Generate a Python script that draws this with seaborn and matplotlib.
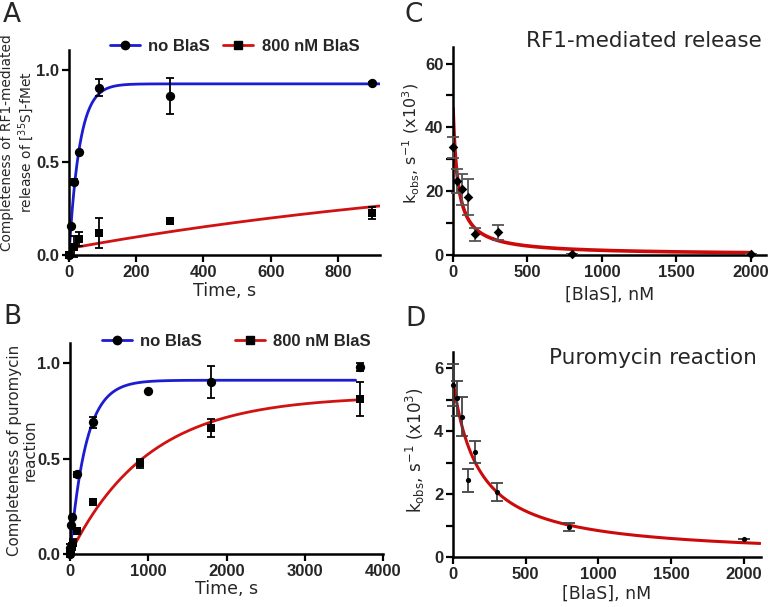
import numpy as np
import pandas as pd
import matplotlib
matplotlib.use("Agg")
import matplotlib.pyplot as plt
from matplotlib.lines import Line2D
from matplotlib.ticker import MultipleLocator
import seaborn as sns

# panel A - RF1-mediated release, completeness vs time
a_t_free = [0, 5, 15, 30, 90, 300, 900]
a_y_free = [0, 0.155, 0.396, 0.558, 0.905, 0.861, 0.928]
a_e_free = [0, 0, 0.015, 0, 0.048, 0.098, 0.006]
a_t_blas = [0, 15, 30, 90, 300, 900]
a_y_blas = [0, 0.045, 0.086, 0.119, 0.185, 0.227]
a_e_blas = [0, 0.055, 0.04, 0.08, 0, 0.03]

# panel B - puromycin reaction, completeness vs time
b_t_free = [0, 5, 10, 25, 90, 300, 1000, 1800, 3700]
b_y_free = [0, 0.03, 0.15, 0.195, 0.417, 0.69, 0.852, 0.902, 0.979]
b_e_free = [0, 0.02, 0, 0, 0.015, 0.03, 0, 0.085, 0.02]
b_t_blas = [0, 10, 20, 40, 90, 300, 900, 1800, 3700]
b_y_blas = [0, 0.02, 0.04, 0.06, 0.12, 0.27, 0.475, 0.66, 0.813]
b_e_blas = [0, 0.01, 0.02, 0.02, 0, 0, 0.025, 0.045, 0.09]

# panels C, D - kobs vs [BlaS]
conc = [0, 30, 60, 100, 150, 300, 800, 2000]
c_kobs = [33.7, 23.2, 20.6, 18.1, 6.5, 7.1, 0.4, 0.3]
c_err = [3.4, 3.8, 4.9, 5.6, 2.0, 2.3, 0, 0]
d_kobs = [5.47, 5.04, 4.46, 2.43, 3.32, 2.07, 0.95, 0.57]
d_err = [0.66, 0.55, 0.62, 0.36, 0.35, 0.29, 0.12, 0]

# fitted parameters
a_fit_free = (0.925, 0.032)          # plateau, rate
a_fit_blas = (0.035, 0.5, 1 / 1500)  # offset, amplitude, rate
b_fit_free = (0.91, 0.0049)
b_fit_blas = (0.828, 0.001)
c_fit = (46.0, 33.0)                 # k0, Ki
d_fit = (5.62, 175.0)

BLUE = "#1c1cd2"
RED = "#d01212"
RED2 = "#cc0a0a"

sns.set_theme(style="ticks")
plt.rcParams["font.family"] = ["DejaVu Sans"]
plt.rcParams["mathtext.default"] = "regular"

fig = plt.figure(figsize=(7.68, 6.07), dpi=100)
W, H = 768, 607


def box(l, t, r, b):
    return [l / W, (H - b) / H, (r - l) / W, (b - t) / H]


axA = fig.add_axes(box(69, 50, 380, 255))
axB = fig.add_axes(box(70, 343, 383, 554))
axC = fig.add_axes(box(453, 47, 766, 255))
axD = fig.add_axes(box(453, 352, 761, 557))

tick_font = dict(family="Liberation Sans", weight="bold", size=12)


def style(ax):
    sns.despine(ax=ax)
    for s in ("left", "bottom"):
        ax.spines[s].set_linewidth(1.8)
        ax.spines[s].set_color("black")
    ax.tick_params(which="both", direction="out", width=1.6, color="black", pad=2)
    ax.tick_params(which="major", length=5)
    ax.tick_params(which="minor", length=5)
    for lab in ax.get_xticklabels() + ax.get_yticklabels():
        lab.set_fontproperties(matplotlib.font_manager.FontProperties(**tick_font))
    ax.grid(False)
    ax.set_facecolor("white")


def dots(ax, x, y, e, marker, size, ecol="black", cap=3):
    df = pd.DataFrame({"x": x, "y": y})
    ax.errorbar(x, y, yerr=e, fmt="none", ecolor=ecol, elinewidth=1.3,
                capsize=cap, capthick=1.3, zorder=3, clip_on=False)
    sns.scatterplot(data=df, x="x", y="y", ax=ax, marker=marker, s=size,
                    color="black", edgecolor="black", linewidth=0, zorder=4,
                    clip_on=False, legend=False)


# ---- A
tA = np.linspace(0, 925, 400)
tA2 = np.linspace(10, 925, 200)
sns.lineplot(x=tA, y=a_fit_free[0] * (1 - np.exp(-a_fit_free[1] * tA)), ax=axA,
             color=BLUE, lw=2, zorder=2)
sns.lineplot(x=tA2, y=a_fit_blas[0] + a_fit_blas[1] * (1 - np.exp(-a_fit_blas[2] * tA2)),
             ax=axA, color=RED, lw=2, zorder=2)
dots(axA, a_t_free, a_y_free, a_e_free, "o", 45)
dots(axA, a_t_blas, a_y_blas, a_e_blas, "s", 40)
axA.set_xlim(0, 925)
axA.set_ylim(0, 1.108)
axA.set_xticks([0, 200, 400, 600, 800])
axA.set_yticks([0, 0.5, 1.0])
axA.set_yticklabels(["0.0", "0.5", "1.0"])
axA.set_xlabel("Time, s", fontsize=12.5, labelpad=2)
axA.set_ylabel("Completeness of RF1-mediated\nrelease of [$^{35}$S]-fMet",
               fontsize=9.9, linespacing=1.1)
axA.yaxis.set_label_coords(-0.107, 0.55)

# ---- B
tB = np.linspace(0, 3650, 500)
sns.lineplot(x=tB, y=b_fit_free[0] * (1 - np.exp(-b_fit_free[1] * tB)), ax=axB,
             color=BLUE, lw=2, zorder=2)
sns.lineplot(x=tB, y=b_fit_blas[0] * (1 - np.exp(-b_fit_blas[1] * tB)), ax=axB,
             color=RED, lw=2, zorder=2)
dots(axB, b_t_free, b_y_free, b_e_free, "o", 45)
dots(axB, b_t_blas, b_y_blas, b_e_blas, "s", 40)
axB.set_xlim(0, 4000)
axB.set_ylim(0, 1.105)
axB.set_xticks([0, 1000, 2000, 3000, 4000])
axB.set_yticks([0, 0.5, 1.0])
axB.set_yticklabels(["0.0", "0.5", "1.0"])
axB.set_xlabel("Time, s", fontsize=12.5, labelpad=1)
axB.set_ylabel("Completeness of puromycin\nreaction", fontsize=10.8,
               linespacing=1.1)
axB.yaxis.set_label_coords(-0.102, 0.49)

# ---- C
xc = np.linspace(0, 2000, 600)
sns.lineplot(x=xc, y=c_fit[0] * c_fit[1] / (c_fit[1] + xc), ax=axC,
             color=RED2, lw=2.6, zorder=2)
dots(axC, conc, c_kobs, c_err, "D", 24, ecol="#555555", cap=4)
axC.set_xlim(0, 2103)
axC.set_ylim(0, 65.2)
axC.set_xticks([0, 500, 1000, 1500, 2000])
axC.set_yticks([0, 20, 40, 60])
axC.yaxis.set_minor_locator(MultipleLocator(10))
axC.set_xlabel("[BlaS], nM", fontsize=12.5, labelpad=4)
axC.set_ylabel("k$_{obs}$, s$^{-1}$ (x10$^{3}$)", fontsize=11.5)
axC.yaxis.set_label_coords(-0.099, 0.534)
axC.text(0.985, 1.077, "RF1-mediated release", transform=axC.transAxes,
         ha="right", va="top", fontsize=15.5)

# ---- D
xd = np.linspace(0, 2110, 600)
sns.lineplot(x=xd, y=d_fit[0] * d_fit[1] / (d_fit[1] + xd), ax=axD,
             color=RED2, lw=2.2, zorder=2)
dots(axD, conc, d_kobs, d_err, "o", 14, ecol="#444444", cap=4)
axD.set_xlim(0, 2117)
axD.set_ylim(0, 6.51)
axD.set_xticks([0, 500, 1000, 1500, 2000])
axD.set_yticks([0, 2, 4, 6])
axD.yaxis.set_minor_locator(MultipleLocator(1))
axD.set_xlabel("[BlaS], nM", fontsize=12.5, labelpad=2)
axD.set_ylabel("k$_{obs}$, s$^{-1}$ (x10$^{3}$)", fontsize=12)
axD.yaxis.set_label_coords(-0.086, 0.52)
axD.text(0.985, 1.02, "Puromycin reaction", transform=axD.transAxes,
         ha="right", va="top", fontsize=15.5)

for ax in (axA, axB, axC, axD):
    style(ax)

# legends in A and B
handles = [Line2D([], [], color=BLUE, lw=2, marker="o", markersize=6,
                  markerfacecolor="black", markeredgecolor="black"),
           Line2D([], [], color=RED, lw=2, marker="s", markersize=6,
                  markerfacecolor="black", markeredgecolor="black")]
for ax, anchor, colsp in ((axA, (0.11, 1.085), 0.8), (axB, (0.08, 1.075), 2.0)):
    ax.legend(handles, ["no BlaS", "800 nM BlaS"], loc="upper left",
              bbox_to_anchor=anchor, ncol=2, frameon=False, borderaxespad=0,
              prop=dict(family="Liberation Sans", weight="bold", size=12),
              handlelength=1.8, columnspacing=colsp, handletextpad=0.5)

for lab, x, y in (("A", 3, 2), ("B", 3, 304), ("C", 404, 2), ("D", 405, 306)):
    fig.text(x / W, 1 - y / H, lab, fontsize=19, ha="left", va="top")

fig.savefig("out.png", dpi=100)
